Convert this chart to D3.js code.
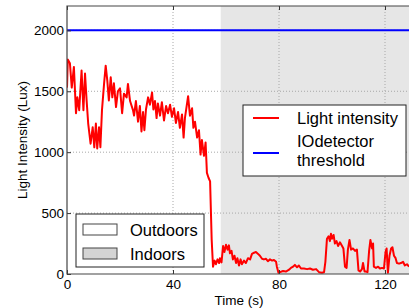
<!DOCTYPE html>
<html>
<head>
<meta charset="utf-8">
<script src="https://cdn.jsdelivr.net/npm/d3@7"></script>
<style>
  body { margin: 0; background: #fff; }
  svg { display: block; font-family: "Liberation Sans", Arial, sans-serif; }
</style>
</head>
<body>
<div id="box"></div>
<script>
'use strict';

var timeSec = [
  0.0, 0.3, 1.1, 1.8, 2.6, 3.4, 3.9, 4.6, 5.5, 6.2, 6.8, 7.4, 8.0, 8.9, 9.7, 10.3,
  10.9, 11.4, 12.1, 12.6, 13.2, 14.0, 14.6, 15.2, 15.8, 16.5, 17.1, 17.7, 18.5, 19.2,
  20.0, 20.8, 21.5, 22.5, 23.0, 23.8, 24.9, 25.3, 26.0, 26.8, 27.5, 28.1, 28.7, 29.2,
  29.8, 30.6, 31.3, 32.1, 32.6, 33.2, 33.8, 34.3, 35.1, 35.8, 36.6, 37.4, 38.1, 38.9,
  39.6, 40.4, 41.1, 41.9, 42.6, 43.4, 44.0, 44.5, 45.7, 46.4, 47.2, 47.7, 48.3, 49.1,
  49.8, 50.4, 50.9, 51.7, 52.3, 52.8, 53.4, 54.0, 54.6, 55.1, 55.7, 56.2, 56.8, 57.4,
  57.7, 58.3, 58.9, 59.4, 60.0, 60.6, 61.1, 61.5, 62.1, 62.6, 63.2, 63.8, 64.3, 64.9,
  65.5, 66.0, 66.8, 67.5, 68.3, 69.1, 69.8, 70.6, 71.3, 72.1, 72.8, 73.6, 74.3, 75.1,
  75.8, 76.6, 77.4, 78.1, 78.9, 79.2, 79.8, 80.4, 81.5, 82.6, 83.8, 84.5, 85.3, 86.0,
  86.8, 87.5, 88.3, 89.4, 90.6, 91.7, 92.8, 94.0, 95.1, 96.2, 97.0, 97.5, 98.1, 98.7,
  99.2, 99.6, 100.0, 100.6, 101.1, 101.7, 102.3, 103.0, 103.8, 104.3, 104.9, 105.5,
  106.0, 106.6, 107.2, 107.9, 108.7, 109.4, 110.0, 110.6, 111.3, 111.7, 112.3, 112.8,
  113.4, 114.0, 114.5, 115.1, 115.5, 115.8, 116.6, 117.4, 118.1, 118.9, 119.6, 120.2,
  120.6, 121.1, 121.7, 122.3, 122.8, 123.4, 124.0, 124.5, 125.3, 126.0, 126.8, 127.5,
  128.3, 129.1
];
var luxValues = [
  1530, 1760, 1730, 1530, 1700, 1320, 1450, 1345, 1670, 1345, 1645, 1425, 1235, 1070, 1205, 1040,
  1235, 1030, 1205, 1040, 1345, 1565, 1710, 1590, 1425, 1615, 1450, 1565, 1370, 1500,
  1525, 1320, 1480, 1450, 1560, 1420, 1345, 1300, 1420, 1250, 1380, 1170, 1330, 1180,
  1350, 1450, 1390, 1490, 1350, 1420, 1280, 1400, 1300, 1410, 1260, 1380, 1320, 1390,
  1290, 1360, 1240, 1330, 1200, 1310, 1120, 1280, 1460, 1300, 1360, 1200, 1250, 1120,
  1180, 980, 1100, 970, 1080, 830, 790, 760, 280, 60, 110, 80, 120, 90,
  130, 95, 230, 180, 240, 200, 235, 170, 190, 120, 150, 90, 130, 70,
  120, 80, 110, 90, 130, 120, 165, 175, 180, 165, 150, 125, 120, 125,
  105, 120, 110, 115, 100, 60, 10, 15, 25, 20, 35, 50, 60, 75,
  55, 70, 45, 45, 40, 45, 35, 40, 15, 10, 15, 100, 290, 310,
  270, 330, 290, 320, 250, 270, 230, 260, 230, 210, 60, 50,
  200, 280, 200, 210, 190, 200, 30, 20, 40, 90, 20, 20,
  15, 190, 280, 210, 250, 60, 50, 60, 45, 50, 45, 180,
  210, 10, 150, 210, 220, 150, 130, 90, 85, 90, 100, 70,
  80, 60
];

var thresholdLux = 2000;
var indoorStart = 58;
var xMax = 130;
var yMax = 2200;
var xTicks = [0, 40, 80, 120];
var yTicks = [0, 500, 1000, 1500, 2000];
var lineLegend = ["Light intensity", "IOdetector", "threshold"];
var areaLegend = ["Outdoors", "Indoors"];

var margin = {top: 6, left: 67};
var width = 344.5;
var height = 268;

var svg = d3.select("#box")
  .append("svg")
    .attr("width", 409)
    .attr("height", 308)
  .append("g")
    .attr("transform", "translate(" + margin.left + "," + margin.top + ")");

var x = d3.scaleLinear().domain([0, xMax]).range([0, width]);
var y = d3.scaleLinear().domain([0, yMax]).range([height, 0]);

svg.append("clipPath").attr("id", "clip")
  .append("rect").attr("width", width).attr("height", height);

// indoor shading
svg.append("rect")
  .attr("x", x(indoorStart))
  .attr("y", 0)
  .attr("width", x(xMax) - x(indoorStart))
  .attr("height", height)
  .attr("fill", "#e6e6e6");

// dotted grid
svg.selectAll(".vgrid")
  .data(xTicks.slice(1))
  .enter().append("line")
    .attr("x1", function(d) { return x(d); })
    .attr("x2", function(d) { return x(d); })
    .attr("y1", 0).attr("y2", height)
    .attr("stroke", "#a8a8a8")
    .attr("stroke-dasharray", "1,2");
svg.selectAll(".hgrid")
  .data(yTicks.slice(1))
  .enter().append("line")
    .attr("x1", 0).attr("x2", width)
    .attr("y1", function(d) { return y(d); })
    .attr("y2", function(d) { return y(d); })
    .attr("stroke", "#a8a8a8")
    .attr("stroke-dasharray", "1,2");

var series = timeSec.map(function(t, i) { return {t: t, v: luxValues[i]}; });

svg.append("path")
  .datum(series)
  .attr("clip-path", "url(#clip)")
  .attr("fill", "none")
  .attr("stroke", "#ff0000")
  .attr("stroke-width", 2)
  .attr("stroke-linejoin", "round")
  .attr("d", d3.line()
    .x(function(d) { return x(d.t); })
    .y(function(d) { return y(d.v); }));

svg.append("line")
  .attr("x1", 0).attr("x2", width)
  .attr("y1", y(thresholdLux)).attr("y2", y(thresholdLux))
  .attr("stroke", "#0000ff")
  .attr("stroke-width", 2);

// axes with inward ticks
var xAxis = svg.append("g")
  .attr("transform", "translate(0," + height + ")")
  .call(d3.axisBottom(x).tickValues(xTicks).tickSize(-4).tickPadding(5).tickFormat(d3.format("d")));
var yAxis = svg.append("g")
  .call(d3.axisLeft(y).tickValues(yTicks).tickSize(-4).tickPadding(3).tickFormat(d3.format("d")));
var topAxis = svg.append("g")
  .call(d3.axisTop(x).tickValues(xTicks).tickSize(-4).tickFormat(""));
[xAxis, yAxis, topAxis].forEach(function(a) {
  a.select(".domain").remove();
  a.selectAll("line").attr("stroke", "#333");
  a.selectAll("text")
    .attr("fill", "#000")
    .style("font-size", "13.5px")
    .style("font-family", "Liberation Sans, Arial, sans-serif");
});

// spines
svg.append("path")
  .attr("d", "M" + width + ",0H0V" + height + "H" + width)
  .attr("fill", "none")
  .attr("stroke", "#444")
  .attr("stroke-width", 1.2);

svg.append("text")
  .attr("x", 172)
  .attr("y", 299)
  .style("text-anchor", "middle")
  .style("font-size", "13.5px")
  .text("Time (s)");
svg.append("text")
  .attr("transform", "translate(-40," + (height / 2) + ") rotate(-90)")
  .style("text-anchor", "middle")
  .style("font-size", "13.5px")
  .text("Light Intensity (Lux)");

// line legend
var leg1 = svg.append("g").attr("transform", "translate(176,99)");
leg1.append("rect")
  .attr("width", 163).attr("height", 71)
  .attr("fill", "#fff").attr("stroke", "#222").attr("stroke-width", 1);
leg1.append("line")
  .attr("x1", 10).attr("x2", 36).attr("y1", 13).attr("y2", 13)
  .attr("stroke", "#ff0000").attr("stroke-width", 2);
leg1.append("line")
  .attr("x1", 10).attr("x2", 36).attr("y1", 48).attr("y2", 48)
  .attr("stroke", "#0000ff").attr("stroke-width", 2);
leg1.selectAll("text")
  .data(lineLegend)
  .enter().append("text")
    .attr("x", 54)
    .attr("y", function(d, i) { return [19, 42, 61][i]; })
    .style("font-size", "16.5px")
    .text(function(d) { return d; });

// area legend
var leg2 = svg.append("g").attr("transform", "translate(9,208)");
leg2.append("rect")
  .attr("width", 128).attr("height", 53)
  .attr("fill", "#fff").attr("stroke", "#222").attr("stroke-width", 1);
leg2.selectAll(".patch")
  .data(areaLegend)
  .enter().append("rect")
    .attr("x", 7)
    .attr("y", function(d, i) { return 10 + i * 24; })
    .attr("width", 34).attr("height", 11)
    .attr("fill", function(d, i) { return i ? "#d4d4d4" : "#fff"; })
    .attr("stroke", "#444");
leg2.selectAll(".lab")
  .data(areaLegend)
  .enter().append("text")
    .attr("x", 54)
    .attr("y", function(d, i) { return 22 + i * 24; })
    .style("font-size", "16.5px")
    .text(function(d) { return d; });
</script>
</body>
</html>
